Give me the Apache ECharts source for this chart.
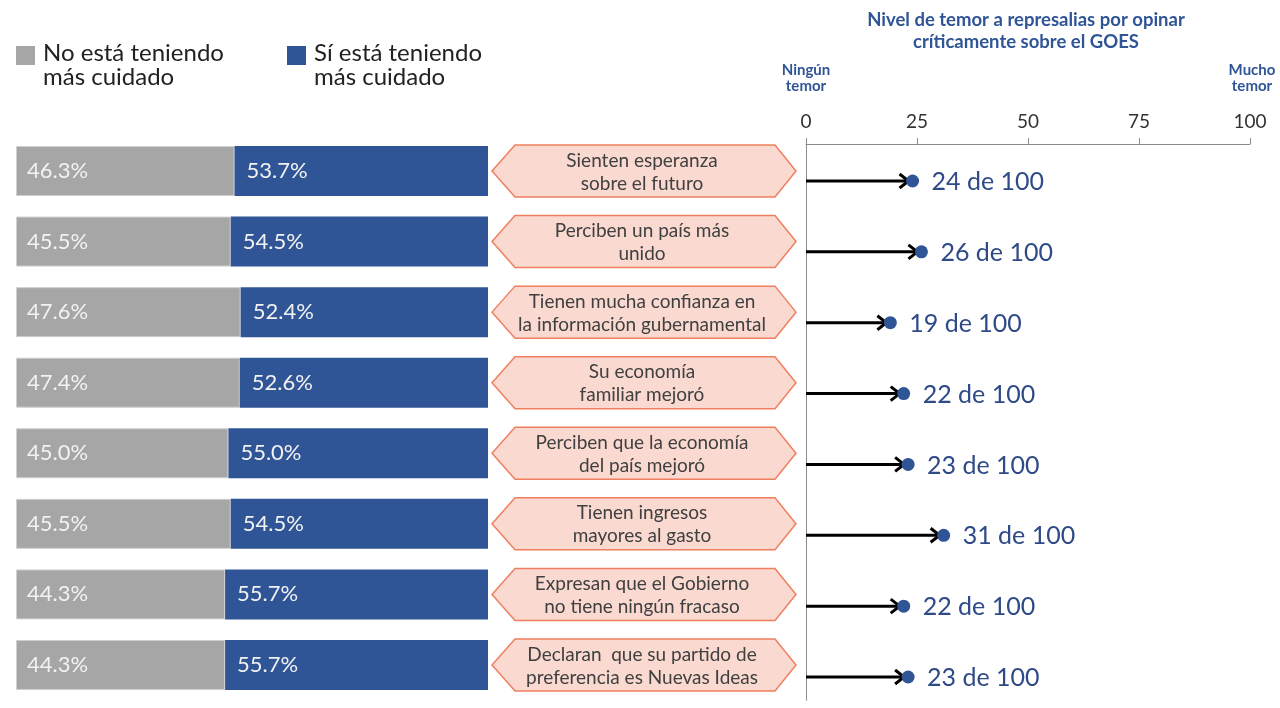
<!DOCTYPE html>
<html>
<head>
<meta charset="utf-8">
<script src="https://cdn.jsdelivr.net/npm/echarts@6/dist/echarts.min.js"></script>
<style>
  html, body { margin: 0; padding: 0; background: #fff; }
  #main { width: 1280px; height: 708px; }
</style>
</head>
<body>
<div id="main"></div>
<script>
// datos
var categorias = [
  'Sienten esperanza\nsobre el futuro',
  'Perciben un país más\nunido',
  'Tienen mucha confianza en\nla información gubernamental',
  'Su economía\nfamiliar mejoró',
  'Perciben que la economía\ndel país mejoró',
  'Tienen ingresos\nmayores al gasto',
  'Expresan que el Gobierno\nno tiene ningún fracaso',
  'Declaran  que su partido de\npreferencia es Nuevas Ideas'
];
var noCuidado = [46.3, 45.5, 47.6, 47.4, 45.0, 45.5, 44.3, 44.3];
var siCuidado = [53.7, 54.5, 52.4, 52.6, 55.0, 54.5, 55.7, 55.7];
var temor = [24, 26, 19, 22, 23, 31, 22, 23];
var ticksTemor = [0, 25, 50, 75, 100];

var GRIS = '#a6a6a6', AZUL = '#2f5597';
var top0 = 135.7, rowH = 70.57, n = categorias.length;
var gridH = rowH * n;
// panel derecho: filas algo desplazadas hacia abajo
var topRight = 144, rowR = 70.86, firstR = 181;
var font = 'Lato, "Open Sans", sans-serif';

var myChart = echarts.init(document.getElementById('main'));

var option = {
  animation: false,
  textStyle: { fontFamily: font },
  grid: [
    { left: 16, width: 472, top: top0, height: gridH },
    { left: 488, width: 312, top: top0, height: gridH },
    { left: 806, width: 444, top: topRight, height: top0 + gridH - topRight }
  ],
  xAxis: [
    { gridIndex: 0, type: 'value', min: 0, max: 100, show: false },
    { gridIndex: 1, type: 'value', min: 0, max: 1, show: false },
    {
      gridIndex: 2, type: 'value', min: 0, max: 100, interval: 25, position: 'top',
      axisLine: { show: true, onZero: false, lineStyle: { color: '#8c8c8c', width: 1 } },
      axisTick: { show: true, length: 6, lineStyle: { color: '#8c8c8c' } },
      splitLine: { show: false },
      axisLabel: { fontSize: 19, color: '#333', margin: 13, fontFamily: font,
        formatter: function (v) { return ticksTemor.indexOf(v) >= 0 ? String(v) : ''; } }
    }
  ],
  yAxis: [
    { gridIndex: 0, type: 'category', data: categorias, inverse: true, show: false },
    { gridIndex: 1, type: 'category', data: categorias, inverse: true, show: false },
    {
      gridIndex: 2, type: 'value', inverse: true,
      min: -(firstR - topRight) / rowR,
      max: (top0 + gridH - topRight) / rowR - (firstR - topRight) / rowR,
      axisLine: { show: true, onZero: false, lineStyle: { color: '#8c8c8c', width: 1 } },
      axisTick: { show: false }, axisLabel: { show: false }, splitLine: { show: false }
    }
  ],
  series: [
    {
      name: 'No está teniendo más cuidado', type: 'bar', stack: 'c',
      xAxisIndex: 0, yAxisIndex: 0, barWidth: 50, data: noCuidado,
      itemStyle: { color: GRIS, borderColor: '#d0d0d0', borderWidth: 1 },
      label: { show: true, position: 'insideLeft', distance: 11, color: '#f2f2f2', fontSize: 22,
        formatter: function (p) { return p.value.toFixed(1) + '%'; } }
    },
    {
      name: 'Sí está teniendo más cuidado', type: 'bar', stack: 'c',
      xAxisIndex: 0, yAxisIndex: 0, barWidth: 50, data: siCuidado,
      itemStyle: { color: AZUL },
      label: { show: true, position: 'insideLeft', distance: 12, color: '#f2f2f2', fontSize: 22,
        formatter: function (p) { return p.value.toFixed(1) + '%'; } }
    },
    {
      type: 'custom', xAxisIndex: 1, yAxisIndex: 1,
      data: categorias.map(function (c, i) { return [0, i]; }),
      renderItem: function (params, api) {
        var cs = params.coordSys;
        var cy = api.coord([0, api.value(1)])[1];
        var h = 26, x0 = cs.x + 4, x1 = cs.x + cs.width - 4, s = 23;
        return {
          type: 'group',
          children: [
            { type: 'polygon',
              shape: { points: [[x0, cy], [x0 + s, cy - h], [x1 - s + 2, cy - h], [x1, cy], [x1 - s + 2, cy + h], [x0 + s, cy + h]] },
              style: { fill: '#f9d9d0', stroke: '#ef7f5f', lineWidth: 1.5 } },
            { type: 'text',
              style: { text: categorias[api.value(1)], x: (x0 + x1) / 2 - 2, y: cy + 1, align: 'center', verticalAlign: 'middle',
                fontSize: 19, lineHeight: 23, fill: '#404040', fontFamily: font } }
          ]
        };
      }
    },
    {
      type: 'custom', xAxisIndex: 2, yAxisIndex: 2,
      data: temor.map(function (v, i) { return [v, i]; }),
      renderItem: function (params, api) {
        var p0 = api.coord([0, api.value(1)]);
        var p1 = api.coord([api.value(0), api.value(1)]);
        var tip = p1[0] - 4;
        return {
          type: 'group',
          children: [
            { type: 'line', shape: { x1: p0[0], y1: p0[1], x2: tip, y2: p1[1] },
              style: { stroke: '#000', lineWidth: 3 } },
            { type: 'polyline', shape: { points: [[tip - 9, p1[1] - 7], [tip, p1[1]], [tip - 9, p1[1] + 7]] },
              style: { stroke: '#000', lineWidth: 3, fill: null } },
            { type: 'circle', shape: { cx: p1[0], cy: p1[1], r: 6.5 }, style: { fill: AZUL } },
            { type: 'text',
              style: { text: api.value(0) + ' de 100', x: p1[0] + 19, y: p1[1] + 1, verticalAlign: 'middle',
                fontSize: 25, fill: '#2e4a87', fontFamily: font } }
          ]
        };
      }
    }
  ],
  graphic: [
    { type: 'rect', left: 16, top: 46, shape: { width: 19, height: 19 }, style: { fill: GRIS } },
    { type: 'text', left: 43, top: 41, style: { text: 'No está teniendo\nmás cuidado', fontSize: 24, lineHeight: 24, fill: '#222', fontFamily: font } },
    { type: 'rect', left: 287, top: 46, shape: { width: 19, height: 19 }, style: { fill: AZUL } },
    { type: 'text', left: 314, top: 41, style: { text: 'Sí está teniendo\nmás cuidado', fontSize: 24, lineHeight: 24, fill: '#222', fontFamily: font } },
    { type: 'text', x: 1026, y: 9, style: { text: 'Nivel de temor a represalias por opinar\ncríticamente sobre el GOES', align: 'center',
      fontSize: 18.5, lineHeight: 22, fontWeight: 'bold', fill: AZUL, fontFamily: font } },
    { type: 'text', x: 806, y: 62, style: { text: 'Ningún\ntemor', align: 'center', fontSize: 15, lineHeight: 16, fontWeight: 'bold', fill: AZUL, fontFamily: font } },
    { type: 'text', x: 1252, y: 62, style: { text: 'Mucho\ntemor', align: 'center', fontSize: 15, lineHeight: 16, fontWeight: 'bold', fill: AZUL, fontFamily: font } }
  ]
};

myChart.setOption(option);
</script>
</body>
</html>
